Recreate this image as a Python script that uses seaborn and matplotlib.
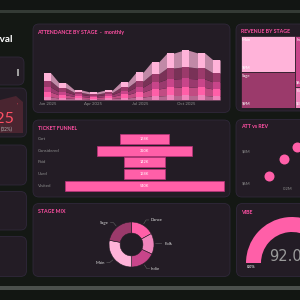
import numpy as np
import matplotlib
matplotlib.use('Agg')
import matplotlib.pyplot as plt
import seaborn as sns
from matplotlib.patches import FancyBboxPatch, Rectangle, Wedge, Polygon
from matplotlib.transforms import blended_transform_factory

# ---- datos ----
months = ['Jan 2025', 'Feb 2025', 'Mar 2025', 'Apr 2025', 'May 2025', 'Jun 2025',
          'Jul 2025', 'Aug 2025', 'Sep 2025', 'Oct 2025', 'Nov 2025', 'Dec 2025']
att_folk = [3, 2, 1.5, 1.2, 1.5, 2.2, 3, 4, 4.5, 4.5, 4.5, 4]
att_dance = [5, 3, 2, 1.5, 2, 3.3, 5, 7, 8, 8.5, 8, 7]
att_indie = [5, 3, 2, 1.5, 2, 3.3, 5, 7, 8.5, 8.5, 8.5, 7]
att_sage = [6, 4, 2, 1.8, 2, 4, 6, 8, 11, 11.5, 11, 9]
att_main = [8, 5, 2.5, 2, 2.5, 5.2, 9, 12, 15, 16.5, 15, 13]

funnel_steps = ['Cart', 'Considered', 'Paid', 'Used', 'Visited']
funnel_vals = [168, 320, 142, 138, 540]

mix_stages = ['Dance', 'Folk', 'Indie', 'Main', 'Sage']
mix_share = [17, 15, 18, 28, 22]

rev_stages = ['Main', 'Sage', 'Indie', 'Folk', 'Dance']
rev_vals = [9.1, 9.0, 6.3, 2.6, 5.0]
rev_labels = ['$9M', '$9M', '$6M', '$3M', '$5M']
rev_groups = [[0, 1], [2, 3], [4]]

scat_att = [0.146, 0.189, 0.226, 0.27, 0.30]
scat_rev = [6.4, 7.5, 8.2, 8.9, 9.1]

vibe = 92.0

# ---- estilo ----
sns.set_theme(style='dark')
plt.rcParams['font.family'] = ['Lato', 'DejaVu Sans']

BG = '#141814'
PANEL = '#231c25'
EDGE = '#30283a'
PINK = '#ff5fa8'
TITLE = '#ff4fa3'
GRAY = '#8c8c8c'
TSIZE = 3.8
stage_col = {'Main': '#ffb3d9', 'Sage': '#9b3a6b', 'Dance': '#ff5fa8',
             'Folk': '#ef85bb', 'Indie': '#c8458a'}

W = H = 300
fig = plt.figure(figsize=(3, 3), dpi=100, facecolor=BG)


def px_ax(x0, y0, x1, y1):
    ax = fig.add_axes([x0 / W, 1 - y1 / H, (x1 - x0) / W, (y1 - y0) / H])
    ax.set_facecolor('none')
    return ax


def panel(x0, y0, x1, y1, fc=PANEL, ec=EDGE, r=6):
    p = FancyBboxPatch((x0 / W, 1 - y1 / H), (x1 - x0) / W, (y1 - y0) / H,
                       boxstyle=f'round,pad=0,rounding_size={r / W}',
                       transform=fig.transFigure, fc=fc, ec=ec, lw=0.6, zorder=0)
    fig.add_artist(p)


def ftext(x, y, s, **kw):
    fig.text(x / W, 1 - y / H, s, **kw)


def mix(c, a=0.75):
    c1 = np.array(matplotlib.colors.to_rgb(c))
    c2 = np.array(matplotlib.colors.to_rgb(PANEL))
    return tuple(a * c1 + (1 - a) * c2)


# bandas superior e inferior
fig.add_artist(Rectangle((0, 1 - 10 / H), 1, 10 / H, transform=fig.transFigure,
                         fc='#121513', lw=0, zorder=0))
fig.add_artist(Rectangle((0, 1 - 13 / H), 1, 3 / H, transform=fig.transFigure,
                         fc='#343a35', lw=0, zorder=0))
fig.add_artist(Rectangle((0, 0), 1, 10 / H, transform=fig.transFigure,
                         fc='#121612', lw=0, zorder=0))
fig.add_artist(Rectangle((0, 10 / H), 1, 4 / H, transform=fig.transFigure,
                         fc='#4b504c', lw=0, zorder=0))

# columna izquierda
ftext(13, 42, 'Festival', ha='right', va='baseline', color='white',
      fontsize=7.2, fontweight='bold')
panel(-20, 57, 24, 85)
fig.add_artist(Rectangle((17 / W, 1 - 76 / H), 2 / W, 7 / H, transform=fig.transFigure,
                         fc='#a0a0a0', lw=0, zorder=1))
panel(-20, 88, 26.5, 137)
fig.add_artist(Polygon([(0, 1 - 100 / H), (16 / W, 1 - 96 / H), (23 / W, 1 - 102 / H),
                        (23 / W, 1 - 133 / H), (0, 1 - 133 / H)],
                       transform=fig.transFigure, fc='#4a2530', lw=0, zorder=1))
ftext(15, 123, '125', ha='right', va='baseline', color='#ff4f64', fontsize=11.5)
ftext(17, 107, "'", ha='left', va='baseline', color='#ff4f64', fontsize=4)
ftext(13, 131, '(32%)', ha='right', va='baseline', color='#b0b0b0', fontsize=3.4)
panel(-20, 145, 26.5, 185)
panel(-20, 191.5, 26.5, 230)
panel(-20, 236.5, 26.5, 276.5)

# ---- ATTENDANCE BY STAGE ----
panel(33, 24, 230, 112.5)
ftext(37.5, 34, 'ATTENDANCE BY STAGE  -  monthly', color=TITLE, fontsize=TSIZE,
      fontweight='bold', va='baseline')
ax = px_ax(39.6, 45, 224.4, 100)
layers = [att_folk, att_dance, att_indie, att_sage, att_main]
lay_names = ['Folk', 'Dance', 'Indie', 'Sage', 'Main']
x = np.arange(len(months))
xs = np.repeat(x, 2) + np.tile([-0.23, 0.23], len(months))
ax.stackplot(xs, *[np.repeat(l, 2) for l in layers],
             colors=[mix(stage_col[n], 0.72) for n in lay_names], lw=0)
bottom = np.zeros(len(months))
for l, n in zip(layers, lay_names):
    ax.bar(x, l, bottom=bottom, width=0.46, color=stage_col[n], lw=0)
    bottom += np.array(l)
ax.set_xlim(-0.5, 11.5)
ax.set_ylim(0, 55)
ax.set_xticks(x[::3])
ax.set_xticklabels([months[i] for i in x[::3]], fontsize=3.2, color=GRAY)
ax.tick_params(axis='x', length=0, pad=1.5)
ax.set_yticks([])
sns.despine(ax=ax, left=True, bottom=True)

# ---- REVENUE BY STAGE ----
panel(236, 24, 360, 111)
ftext(241, 33, 'REVENUE BY STAGE', color=TITLE, fontsize=TSIZE, fontweight='bold',
      va='baseline')
ax = px_ax(240.7, 36, 337, 107.7)
total = sum(rev_vals)
x0 = 0
for grp in rev_groups:
    s = sum(rev_vals[i] for i in grp)
    y0 = 0
    for i in grp:
        h = rev_vals[i] / s
        ax.bar(x0, h, width=s, bottom=y0, align='edge', color=stage_col[rev_stages[i]],
               edgecolor=PANEL, lw=0.5)
        ax.text(x0 + 0.35, y0 + 0.03, rev_stages[i], color='white', fontsize=3,
                va='top', ha='left')
        ax.text(x0 + 0.35, y0 + h - 0.03, rev_labels[i], color='white', fontsize=3,
                va='bottom', ha='left')
        y0 += h
    x0 += s
ax.set_xlim(0, total)
ax.set_ylim(1, 0)
ax.axis('off')

# ---- TICKET FUNNEL ----
panel(33, 120, 230, 197)
ftext(37.5, 129.5, 'TICKET FUNNEL', color=TITLE, fontsize=TSIZE, fontweight='bold',
      va='baseline')
ax = px_ax(60, 133, 229, 192)
fv = np.array(funnel_vals, dtype=float)
idx = np.arange(len(funnel_steps))
ax.barh(idx, fv, left=-fv / 2, height=0.85, color=PINK, edgecolor='#b8327a', lw=0.5)
for i, v in zip(idx, funnel_vals):
    ax.text(0, i, f'{v}K', ha='center', va='center', color='white', fontsize=2.8)
tr = blended_transform_factory(fig.transFigure, ax.transData)
for i, s in zip(idx, funnel_steps):
    ax.text(37.5 / W, i, s, transform=tr, ha='left', va='center', color=GRAY,
            fontsize=3.2)
ax.set_xlim(-287.5, 287.5)
ax.set_ylim(4.53, -0.513)
ax.axis('off')

# ---- ATT vs REV ----
panel(236, 119.5, 360, 197)
ftext(241, 127.5, 'ATT vs REV', color=TITLE, fontsize=TSIZE, fontweight='bold',
      va='baseline')
ax = px_ax(252, 133, 360, 185)
sns.scatterplot(x=scat_att, y=scat_rev, ax=ax, color=PINK, s=52, lw=0)
ax.set_xlim(0.097, 0.406)
ax.set_ylim(5.86, 9.1)
ax.set_xticks([0.2, 0.4])
ax.set_xticklabels(['0.2M', '0.4M'], fontsize=3, color=GRAY)
ax.set_yticks([6, 8])
ax.set_yticklabels(['$6M', '$8M'], fontsize=3, color=GRAY)
ax.tick_params(length=0, pad=1.5)
ax.grid(False)
sns.despine(ax=ax, left=True, bottom=True)

# ---- STAGE MIX ----
panel(33, 203.5, 230, 276.5)
ftext(37.5, 213, 'STAGE MIX', color=TITLE, fontsize=TSIZE, fontweight='bold',
      va='baseline')
ax = px_ax(101.5, 214.5, 161.5, 274.5)
wedges, _ = ax.pie(mix_share, colors=[stage_col[s] for s in mix_stages],
                   startangle=90, counterclock=False, radius=0.75,
                   wedgeprops=dict(width=0.37, edgecolor=PANEL, lw=0.4))
for w, s in zip(wedges, mix_stages):
    a = np.deg2rad((w.theta1 + w.theta2) / 2)
    cx, cy = np.cos(a), np.sin(a)
    side = 1 if cx >= 0 else -1
    p1 = (0.8 * cx, 0.8 * cy)
    p2 = (0.95 * cx, 0.95 * cy)
    p3 = (p2[0] + side * 0.1, p2[1])
    ax.plot([p1[0], p2[0], p3[0]], [p1[1], p2[1], p3[1]], color='#777777', lw=0.3)
    ax.text(p3[0] + side * 0.04, p3[1], s, ha='left' if side > 0 else 'right',
            va='center', color='#dddddd', fontsize=3.1)
ax.set_xlim(-1, 1)
ax.set_ylim(-1, 1)
ax.axis('off')

# ---- VIBE ----
panel(236.5, 203.5, 360, 276.5)
ftext(241, 214.5, 'VIBE', color=TITLE, fontsize=TSIZE, fontweight='bold', va='baseline')
ax = px_ax(242, 213, 342, 313)
theta_end = 180 - 180 * vibe / 100
ax.add_patch(Wedge((0, 0), 46, theta_end, 180, width=15, fc=PINK, lw=0))
ax.add_patch(Wedge((0, 0), 46, 0, theta_end, width=15, fc='#3a3340', lw=0))
ax.text(0, 2, f'{vibe:.1f}%', ha='center', va='baseline', color='#9a9a9a',
        fontsize=10.5, family=['DejaVu Sans'])
ax.text(-45, -4.5, '0.0%', ha='left', va='center', color='#dddddd', fontsize=2.8,
        fontweight='bold')
ax.set_xlim(-50, 50)
ax.set_ylim(-50, 50)
ax.axis('off')

fig.savefig('out.png', dpi=100, facecolor=BG)
